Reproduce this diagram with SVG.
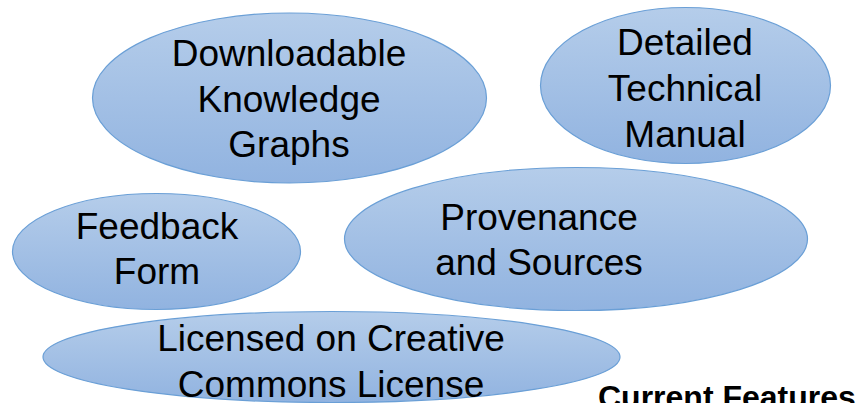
<svg xmlns="http://www.w3.org/2000/svg" width="860" height="403" viewBox="0 0 860 403">
<defs>
<linearGradient id="g" x1="0" y1="0" x2="0" y2="1">
<stop offset="0" stop-color="#b5cdea"/>
<stop offset="1" stop-color="#91b3e0"/>
</linearGradient>
<style>
.n{fill:url(#g);stroke:#6a9fd6;stroke-width:1.2}
.t{font-family:"Liberation Sans",Arial,sans-serif;font-size:37px;fill:#000;text-anchor:middle}
.c{font-family:"Liberation Sans",Arial,sans-serif;font-size:32px;font-weight:bold;fill:#000}
</style>
</defs>
<rect width="860" height="403" fill="#fff"/>
<g id="connectors"/>
<g id="n-download">
<ellipse class="n" cx="289.5" cy="98" rx="197" ry="85"/>
<text class="t" x="289" y="66">Downloadable</text>
<text class="t" x="289" y="111.5">Knowledge</text>
<text class="t" x="289" y="157">Graphs</text>
</g>
<g id="n-manual">
<ellipse class="n" cx="685.5" cy="85.5" rx="145" ry="78"/>
<text class="t" x="685" y="55">Detailed</text>
<text class="t" x="685" y="101">Technical</text>
<text class="t" x="685" y="146.5">Manual</text>
</g>
<g id="n-feedback">
<ellipse class="n" cx="156.5" cy="251.5" rx="144" ry="58"/>
<text class="t" x="157" y="239">Feedback</text>
<text class="t" x="157" y="284">Form</text>
</g>
<g id="n-provenance">
<ellipse class="n" cx="576" cy="239" rx="231.5" ry="71.5"/>
<text class="t" x="539" y="230">Provenance</text>
<text class="t" x="539" y="275">and Sources</text>
</g>
<g id="n-license">
<ellipse class="n" cx="331.5" cy="357" rx="288.5" ry="45.5"/>
<text class="t" x="331" y="350.5">Licensed on Creative</text>
<text class="t" x="331" y="396.5">Commons License</text>
</g>
<text class="c" x="598" y="408">Current Features</text>
</svg>
